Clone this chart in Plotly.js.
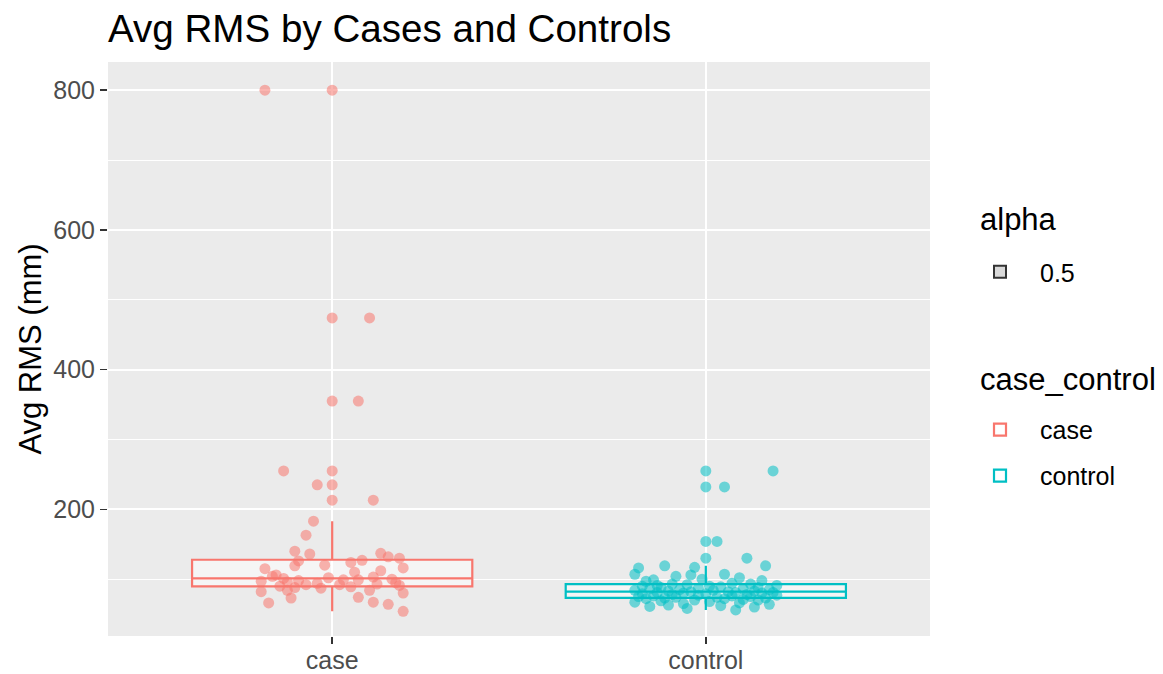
<!DOCTYPE html>
<html><head><meta charset="utf-8">
<script src="https://cdn.plot.ly/plotly-3.0.1.min.js"></script>
<style>html,body{margin:0;padding:0;background:#fff}#chart{width:1163px;height:674px}</style>
</head><body><div id="chart"></div>
<script>
const categories = ['case', 'control'];
const caseValues = [800, 474, 355, 255, 235, 213, 183, 163, 140, 137,
  136, 132, 130, 126, 127, 124, 120, 119, 116, 115,
  112, 110, 106, 104, 103, 102, 101, 100, 99, 99,
  98, 97, 96, 95, 94, 93, 92, 92, 91, 90,
  89, 88, 87, 84, 84, 82, 80, 74, 73, 67,
  66, 64, 54];
const caseJitter = [-0.18, 0.10, 0.07, -0.13, -0.04, 0.11, -0.05, -0.07, -0.10, 0.13,
  -0.06, 0.15, 0.18, -0.09, 0.08, 0.05, -0.02, -0.10, 0.19, -0.18,
  0.13, 0.06, -0.15, -0.16, 0.11, -0.01, -0.13, 0.16, 0.07, 0.03,
  -0.09, -0.19, -0.12, 0.17, -0.04, 0.12, -0.07, 0.02, 0.18, -0.14,
  0.05, -0.10, -0.03, -0.12, 0.10, -0.19, 0.19, 0.07, -0.11, 0.11,
  -0.17, 0.15, 0.19];
const controlValues = [255, 232, 154, 130,
  119, 119, 117, 116, 107, 107, 106, 104, 102, 100,
  99, 98, 97, 94, 93, 93, 92, 91, 91, 90,
  90, 89, 88, 88, 87, 86, 86, 85, 85, 84,
  84, 83, 83, 82, 82, 81, 81, 81, 80, 80,
  79, 79, 78, 78, 77, 77, 76, 76, 75, 75,
  74, 74, 73, 73, 72, 72, 71, 70, 70, 69,
  68, 67, 66, 65, 64, 63, 62, 61, 60, 58,
  56];
const controlJitter = [0.18, 0.05, 0.03, 0.11,
  -0.11, 0.16, -0.03, -0.18, -0.19, 0.05, -0.04, -0.08, 0.09, -0.01,
  -0.14, 0.15, -0.16, 0.07, -0.09, 0.12, -0.05, 0.19, -0.13, 0.01,
  -0.17, 0.04, -0.12, 0.14, -0.02, 0.10, -0.15, 0.17, -0.07, 0.02,
  -0.19, 0.13, -0.10, 0.06, -0.04, 0.18, -0.13, 0.08, -0.06, 0.15,
  -0.17, 0.00, 0.11, -0.09, 0.19, -0.02, 0.07, -0.14, 0.12, -0.18,
  0.03, -0.08, 0.16, -0.11, 0.05, -0.16, 0.10, -0.03, 0.14, -0.12,
  0.01, -0.19, 0.09, -0.06, 0.17, -0.10, 0.04, -0.15, 0.13, -0.05,
  0.08];
const yTicks = [200, 400, 600, 800];
const alphaLabel = '0.5';
const legendTitles = ['alpha', 'case_control'];

const FONT = 'Liberation Sans, Arial, Helvetica, sans-serif';
const palette = ['#F8766D', '#00BFC4'];
const paletteA = ['rgba(248,118,109,0.55)', 'rgba(0,191,196,0.55)'];
const groups = [caseValues, controlValues];
const jitters = [caseJitter, controlJitter];
const legendIds = ['legend2', 'legend3'];

const traces = [];
traces.push({
  type: 'box', x0: 1, y: [null], name: alphaLabel, legend: 'legend',
  line: {color: '#333333', width: 2}, fillcolor: '#D9D9D9', hoverinfo: 'skip', showlegend: true
});
categories.forEach((cat, i) => {
  traces.push({
    type: 'box', x0: i + 1, y: groups[i], name: cat, legend: legendIds[i],
    boxpoints: 'outliers', pointpos: 0, jitter: 0,
    marker: {color: paletteA[i], size: 11, line: {width: 0}},
    line: {color: palette[i], width: 2.2},
    fillcolor: 'rgba(255,255,255,0.5)', width: 0.75, whiskerwidth: 0
  });
});
categories.forEach((cat, i) => {
  traces.push({
    type: 'scatter', mode: 'markers',
    x: groups[i].map((v, k) => i + 1 + jitters[i][k]), y: groups[i],
    marker: {color: paletteA[i], size: 11, line: {width: 0}},
    showlegend: false, hoverinfo: 'skip'
  });
});

const legBase = {xanchor: 'left', yanchor: 'middle', x: 1.0365, itemwidth: 70,
  font: {size: 25, color: '#000', family: FONT}, bgcolor: 'rgba(0,0,0,0)', borderwidth: 0};

const layout = {
  width: 1163, height: 674,
  margin: {l: 108, r: 233, t: 62, b: 38},
  paper_bgcolor: '#ffffff', plot_bgcolor: '#EBEBEB',
  font: {family: FONT, color: '#000'},
  title: {text: 'Avg RMS by Cases and Controls', font: {size: 38.6, color: '#000', family: FONT},
    xref: 'paper', x: 0, xanchor: 'left', yref: 'container', y: 0.958, yanchor: 'middle'},
  showlegend: true,
  legend: Object.assign({}, legBase, {y: 0.634}),
  legend2: Object.assign({}, legBase, {y: 0.359}),
  legend3: Object.assign({}, legBase, {y: 0.279}),
  annotations: [
    {text: legendTitles[0], xref: 'paper', yref: 'paper', x: 1.058, y: 0.726, xanchor: 'left', yanchor: 'middle',
      showarrow: false, font: {size: 31, color: '#000', family: FONT}},
    {text: legendTitles[1], xref: 'paper', yref: 'paper', x: 1.058, y: 0.446, xanchor: 'left', yanchor: 'middle',
      showarrow: false, font: {size: 31, color: '#000', family: FONT}}
  ],
  xaxis: {range: [0.4, 2.6], tickvals: [1, 2], ticktext: categories, showgrid: true, gridcolor: '#ffffff', gridwidth: 2,
    zeroline: false, ticks: 'outside', ticklen: 7, tickwidth: 1.5, tickcolor: '#333333', ticklabelstandoff: -5,
    tickfont: {size: 25, color: '#4D4D4D', family: FONT}, showline: false, fixedrange: true},
  yaxis: {range: [18.6, 840.4], tickvals: yTicks, showgrid: true, gridcolor: '#ffffff', gridwidth: 2,
    minor: {dtick: 100, tick0: 0, showgrid: true, gridcolor: '#ffffff', gridwidth: 1, ticks: ''},
    zeroline: false, ticks: 'outside', ticklen: 7, tickwidth: 1.5, tickcolor: '#333333',
    tickfont: {size: 25, color: '#4D4D4D', family: FONT},
    title: {text: 'Avg RMS (mm)', font: {size: 31, color: '#000', family: FONT}, standoff: 2},
    automargin: false, showline: false, fixedrange: true}
};
Plotly.newPlot('chart', traces, layout, {displayModeBar: false, staticPlot: true});
</script></body></html>
